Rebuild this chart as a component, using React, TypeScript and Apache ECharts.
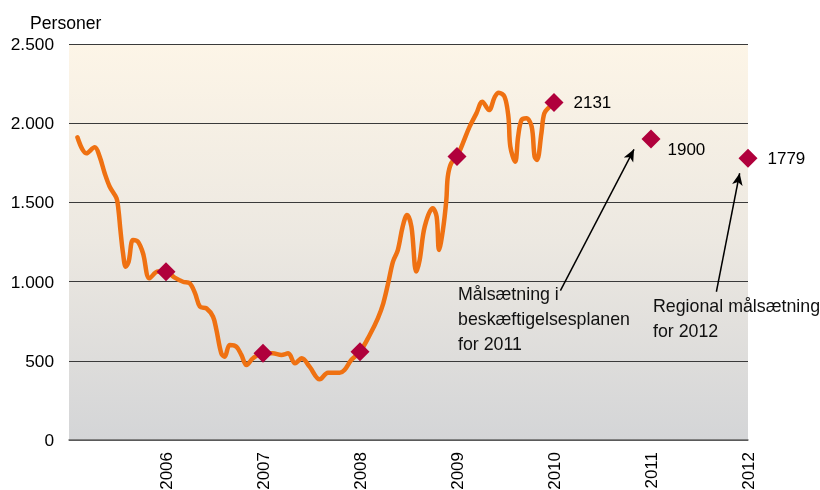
import React, { useEffect, useRef } from "react";
import * as echarts from "echarts";

// Time in years (fractional), values = persons
const lineYears = [
  2005.087, 2005.18, 2005.265, 2005.316, 2005.368, 2005.42, 2005.49, 2005.51, 2005.53, 2005.557,
  2005.585, 2005.615, 2005.66, 2005.71, 2005.763, 2005.83, 2005.917, 2006.0, 2006.09, 2006.175,
  2006.245, 2006.3, 2006.35, 2006.417, 2006.485, 2006.52, 2006.57, 2006.605, 2006.657, 2006.726,
  2006.777, 2006.83, 2006.897, 2007.0, 2007.1, 2007.19, 2007.26, 2007.33, 2007.4, 2007.48,
  2007.585, 2007.67, 2007.79, 2007.84, 2007.91, 2008.0, 2008.1, 2008.185, 2008.24, 2008.29,
  2008.34, 2008.39, 2008.44, 2008.485, 2008.53, 2008.58, 2008.615, 2008.667, 2008.75, 2008.79,
  2008.815, 2008.855, 2008.89, 2008.905, 2008.94, 2009.0, 2009.06, 2009.13, 2009.2, 2009.26,
  2009.33, 2009.39, 2009.43, 2009.49, 2009.53, 2009.55, 2009.6, 2009.63, 2009.665, 2009.715,
  2009.77, 2009.8, 2009.825, 2009.87, 2009.9, 2009.955, 2010.0,
];
const lineValues = [
  1911, 1810, 1848, 1789, 1684, 1599, 1526, 1452, 1326, 1179,
  1094, 1126, 1263, 1252, 1179, 1021, 1063, 1062, 1025, 999,
  989, 926, 842, 831, 778, 694, 547, 526, 600, 589,
  537, 473, 516, 547, 547, 537, 547, 484, 516, 463,
  383, 425, 425, 442, 505, 557, 663, 770, 863, 989,
  1126, 1199, 1347, 1420, 1347, 1063, 1136, 1347, 1463, 1410,
  1199, 1326, 1515, 1662, 1747, 1789, 1873, 1978, 2062, 2136,
  2083, 2167, 2193, 2167, 2041, 1852, 1757, 1915, 2020, 2031,
  1978, 1789, 1768, 1936, 2062, 2104, 2129,
];

const markerYears = [2006, 2007, 2008, 2009, 2010, 2011, 2012];
const markerValues = [1062, 547, 557, 1789, 2131, 1900, 1779];
const markerLabeled = [false, false, false, false, true, true, true];

const yTicks = [0, 500, 1000, 1500, 2000, 2500];
const xYears = [2006, 2007, 2008, 2009, 2010, 2011, 2012];

const noteTexts = [
  "Målsætning i\nbeskæftigelsesplanen\nfor 2011",
  "Regional målsætning\nfor 2012",
];
// arrows: [startYear, startValue, tipYear, tipValue]
const arrows = [
  [2010.066, 943, 2010.825, 1835],
  [2011.674, 936, 2011.914, 1684],
];

const FONT = "'Liberation Sans', Arial, Helvetica, sans-serif";

const fmt = (v: number) =>
  v >= 1000 ? `${Math.floor(v / 1000)}.${String(v % 1000).padStart(3, "0")}` : String(v);

export default function App() {
  const ref = useRef<HTMLDivElement>(null);
  useEffect(() => {
    if (!ref.current) return;
    const chart = echarts.init(ref.current, undefined, { renderer: "svg" });
    const option: any = {
      animation: false,
      textStyle: { fontFamily: FONT },
      grid: {
        left: 69,
        right: 72,
        top: 44,
        bottom: 50,
        show: true,
        borderWidth: 0,
        outerBoundsMode: "none",
        backgroundColor: new echarts.graphic.LinearGradient(0, 0, 0, 1, [
          { offset: 0, color: "#FDF5E7" },
          { offset: 0.5, color: "#ECE8E1" },
          { offset: 1, color: "#D4D5D7" },
        ]),
      },
      xAxis: {
        type: "value",
        min: 2005,
        max: 2012,
        interval: 1,
        axisLine: { show: true, lineStyle: { color: "#666", width: 1.5 } },
        axisTick: { show: false },
        splitLine: { show: false },
        axisLabel: {
          rotate: 90,
          margin: 12,
          fontSize: 17,
          color: "#000",
          fontFamily: FONT,
          formatter: (v: number) => (xYears.includes(v) ? String(v) : ""),
        },
      },
      yAxis: {
        type: "value",
        min: 0,
        max: 2500,
        interval: 500,
        axisLine: { show: false },
        axisTick: { show: false },
        splitLine: { show: true, lineStyle: { color: "#3a3a3a", width: 1 } },
        axisLabel: {
          margin: 15,
          fontSize: 17.3,
          color: "#000",
          fontFamily: FONT,
          formatter: (v: number) => (yTicks.includes(v) ? fmt(v) : ""),
        },
      },
      graphic: [
        {
          type: "text",
          x: 30,
          y: 23,
          style: {
            text: "Personer",
            fontSize: 17.6,
            fontFamily: FONT,
            fill: "#000",
            align: "left",
            verticalAlign: "middle",
          },
        },
        {
          type: "text",
          x: 458,
          y: 281,
          style: {
            text: noteTexts[0],
            fontSize: 17.8,
            lineHeight: 25,
            fontFamily: FONT,
            fill: "#111",
            align: "left",
            verticalAlign: "top",
          },
        },
        {
          type: "text",
          x: 653,
          y: 293,
          style: {
            text: noteTexts[1],
            fontSize: 17.8,
            lineHeight: 25,
            fontFamily: FONT,
            fill: "#111",
            align: "left",
            verticalAlign: "top",
          },
        },
      ],
      series: [
        {
          type: "line",
          data: lineYears.map((y, i) => [y, lineValues[i]]),
          smooth: 0.35,
          showSymbol: false,
          symbol: "none",
          lineStyle: { color: "#EF7112", width: 4.5, cap: "round", join: "round" },
          z: 2,
        },
        {
          type: "scatter",
          symbol: "diamond",
          symbolSize: [19, 19],
          itemStyle: { color: "#B0003C", opacity: 1 },
          z: 3,
          data: markerYears.map((y, i) => ({
            value: [y, markerValues[i]],
            label: {
              show: markerLabeled[i],
              position: "right",
              distance: y === 2011 ? 7 : 10,
              offset: y === 2011 ? [0, 10] : [0, 0],
              formatter: String(markerValues[i]),
              fontSize: 17,
              color: "#000",
              opacity: 1,
              fontFamily: FONT,
            },
          })),
          markLine: {
            silent: true,
            symbol: ["none", "arrow"],
            symbolSize: [8, 12],
            label: { show: false },
            lineStyle: { color: "#000", width: 1.5, type: "solid", opacity: 1 },
            data: arrows.map((a) => [
              { coord: [a[0], a[1]] },
              { coord: [a[2], a[3]] },
            ]),
          },
        },
      ],
    };
    chart.setOption(option);
    return () => chart.dispose();
  }, []);
  return (
    <div
      ref={ref}
      style={{ position: "fixed", left: 0, top: 0, width: 820, height: 490 }}
    />
  );
}
